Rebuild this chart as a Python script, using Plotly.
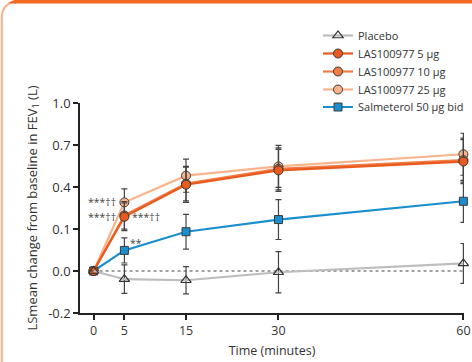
import plotly.graph_objects as go

times = [0, 5, 15, 30, 60]
x_ticks = [0, 5, 15, 30, 60]
y_tickvals = [-0.2, 0.0, 0.2, 0.4, 0.6, 0.8]
y_ticktext = ["-0.2", "0.0", "0.1", "0.4", "0.7", "1.0"]

placebo = [0, -0.039, -0.044, -0.006, 0.036]
placebo_err = [0, 0.068, 0.065, 0.098, 0.095]
las5 = [0, 0.258, 0.411, 0.479, 0.521]
las5_err = [0, 0.066, 0.084, 0.1, 0.105]
las10 = [0, 0.265, 0.416, 0.486, 0.528]
las10_err = [0, 0.066, 0.082, 0.1, 0.105]
las25 = [0, 0.327, 0.454, 0.498, 0.556]
las25_err = [0, 0.064, 0.079, 0.1, 0.1]
salm = [0, 0.098, 0.187, 0.245, 0.332]
salm_err = [0, 0.06, 0.083, 0.095, 0.1]

FONT = "Open Sans"
W, H = 472, 362
L, R, T, B = 80, 8, 103, 49
PW, PH = W - L - R, H - T - B

def px(xp):
    return (xp - L) / PW

def py(yp):
    return (H - B - yp) / PH

fig = go.Figure()

legend_rows = {"legend": 35.5, "legend2": 53.5, "legend3": 71.5, "legend4": 89.5, "legend5": 107}

def add(name, y, err, color, symbol, fill, leg, size=9):
    fig.add_trace(go.Scatter(
        x=times, y=y, name=name, mode="lines+markers",
        line=dict(color=color, width=2.2),
        marker=dict(symbol=symbol, size=size, color=fill,
                    line=dict(color="#3a3a3a", width=1)),
        error_y=dict(type="data", array=err, visible=True,
                     color="#444444", thickness=1.2, width=3),
        legend=leg, cliponaxis=False,
    ))

add("Salmeterol 50 µg bid", salm, salm_err, "#1b8fcd", "square", "#1b8fcd", "legend5", 8)
add("LAS100977 25 µg", las25, las25_err, "#f8b48b", "circle", "#f8b48b", "legend4")
add("LAS100977 10 µg", las10, las10_err, "#f27c45", "circle", "#f27c45", "legend3")
add("LAS100977 5 µg", las5, las5_err, "#e85a1e", "circle", "#e85a1e", "legend2")
add("Placebo", placebo, placebo_err, "#bdbdbd", "triangle-up-open", "white", "legend", 9)
fig.data[-1].marker.line.color = "#333333"
fig.data[-1].marker.line.width = 1.2
fig.data[-1].marker.color = "#333333"

# zero reference line
fig.add_shape(type="line", xref="x", yref="y", x0=0, x1=60, y0=0, y1=0,
              line=dict(color="#444444", width=1, dash="dot"), layer="below")

# frame decoration
fig.add_shape(type="rect", xref="paper", yref="paper",
              x0=px(14), x1=px(473), y0=py(3.5), y1=py(-1),
              fillcolor="#f26a21", line=dict(width=0))
fig.add_shape(type="path", xref="paper", yref="paper",
              path=f"M {px(1.8)},{py(363)} L {px(1.8)},{py(18)} Q {px(2)},{py(3)} {px(16)},{py(2)}",
              line=dict(color="#f7b08c", width=2))
fig.add_shape(type="path", xref="paper", yref="paper",
              path=f"M {px(8)},{py(3)} Q {px(12)},{py(0)} {px(16)},{py(0)} L {px(16)},{py(3.5)} Z",
              fillcolor="#f26a21", line=dict(width=0))

ann_font = dict(family=FONT, size=10.5, color="#444444")
for xv, yv, anchor, shift, txt in [
    (5, 0.327, "right", -6, "***††"),
    (5, 0.258, "right", -6, "***††"),
    (5, 0.258, "left", 6, "***††"),
    (5, 0.135, "left", 4, "**"),
]:
    fig.add_annotation(x=xv, y=yv, xref="x", yref="y", text=txt, showarrow=False,
                       xanchor=anchor, yanchor="middle", xshift=shift, font=ann_font)

legend_style = dict(x=px(318), xanchor="left", yanchor="middle",
                    font=dict(family=FONT, size=11, color="#333333"),
                    bgcolor="rgba(0,0,0,0)", itemwidth=30)
layout_legends = {k: dict(legend_style, y=py(v)) for k, v in legend_rows.items()}

fig.update_layout(
    width=W, height=H,
    margin=dict(l=L, r=R, t=T, b=B, autoexpand=False),
    paper_bgcolor="white", plot_bgcolor="white",
    font=dict(family=FONT, size=11, color="#333333"),
    showlegend=True,
    xaxis=dict(range=[-2.2, 60.1], tickvals=x_ticks, ticktext=[str(t) for t in x_ticks],
               showgrid=False, zeroline=False, showline=True, linecolor="#222222",
               linewidth=1.5, ticks="outside", ticklen=5, tickwidth=1.5, tickcolor="#222222",
               tickfont=dict(size=12.5),
               title=dict(text="Time (minutes)", font=dict(size=12.5), standoff=8)),
    yaxis=dict(range=[-0.2, 0.8], tickvals=y_tickvals, ticktext=y_ticktext,
               showgrid=False, zeroline=False, showline=True, linecolor="#222222",
               linewidth=1.5, ticks="outside", ticklen=5, tickwidth=1.5, tickcolor="#222222",
               tickfont=dict(size=13),
               title=dict(text="LSmean change from baseline in FEV<sub>1</sub> (L)",
                          font=dict(size=13), standoff=8)),
    **layout_legends,
)

fig.write_html("out.html", config={"displayModeBar": False},
               post_script="document.body.style.margin='0';document.body.style.overflow='hidden';")
